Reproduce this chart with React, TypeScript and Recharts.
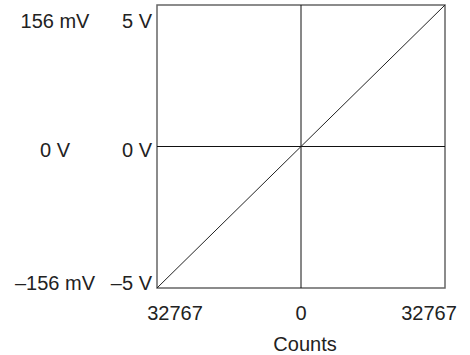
import { ComposedChart, Line, XAxis, YAxis, ReferenceLine, ReferenceArea, Label } from "recharts";

// transfer line: counts vs volts
const countsPoints = [-32767, 32767];
const voltPoints = [-5, 5];

const countTicks = [-32767, 0, 32767];
const countTickLabels = ["32767", "0", "32767"];

const voltTicks = [-5, 0, 5];
const voltTickLabels = ["–5 V", "0 V", "5 V"];
const mvTickLabels = ["–156 mV", "0 V", "156 mV"];

const data = countsPoints.map((c, i) => ({ counts: c, volts: voltPoints[i] }));

const FONT = "'Liberation Sans', Arial, sans-serif";
const shiftY = (i: number) => (i === 0 ? -5 : i === 1 ? 3 : 12);

const CountTick = ({ x, y, payload, index }: any) => {
  const dx = index === 0 ? 18 : index === 2 ? -16 : 0;
  return (
    <text x={x + dx} y={y + 25} textAnchor="middle" dominantBaseline="central"
      fontFamily={FONT} fontSize={20} fill="#222">
      {countTickLabels[countTicks.indexOf(payload.value)]}
    </text>
  );
};

// both label columns (mV and V) hang off the one volt axis
const VoltTick = ({ x, y, payload }: any) => {
  const i = voltTicks.indexOf(payload.value);
  return (
    <g>
      <text x={55} y={y + shiftY(i)} textAnchor="middle" dominantBaseline="central"
        fontFamily={FONT} fontSize={20} fill="#222">
        {mvTickLabels[i]}
      </text>
      <text x={x} y={y + shiftY(i)} textAnchor="end" dominantBaseline="central"
        fontFamily={FONT} fontSize={20} fill="#222">
        {voltTickLabels[i]}
      </text>
    </g>
  );
};

export default function App() {
  return (
    <div style={{ position: "absolute", left: 0, top: 0, background: "#fff" }}>
      <ComposedChart width={470} height={355} data={data}
        margin={{ top: 5, right: 25, bottom: 0, left: 0 }}>
        <XAxis dataKey="counts" type="number" domain={[-32767, 32767]} ticks={countTicks}
          axisLine={false} tickLine={false} tickSize={0} tickMargin={0} height={67}
          tick={<CountTick />}>
          <Label value="Counts" position="insideBottom" offset={4} dx={4}
            style={{ fontFamily: FONT, fontSize: 20, fill: "#222" }} />
        </XAxis>
        <YAxis type="number" domain={[-5, 5]} ticks={voltTicks} width={157}
          axisLine={false} tickLine={false} tickSize={0} tickMargin={5} tick={<VoltTick />} />
        <ReferenceArea x1={-32767} x2={32767} y1={-5} y2={5}
          fill="none" stroke="#666" strokeWidth={1.5} ifOverflow="visible" />
        <ReferenceLine x={0} stroke="#111" strokeWidth={1} />
        <ReferenceLine y={0} stroke="#111" strokeWidth={1} />
        <Line dataKey="volts" stroke="#222" strokeWidth={1} dot={false}
          isAnimationActive={false} />
      </ComposedChart>
    </div>
  );
}
